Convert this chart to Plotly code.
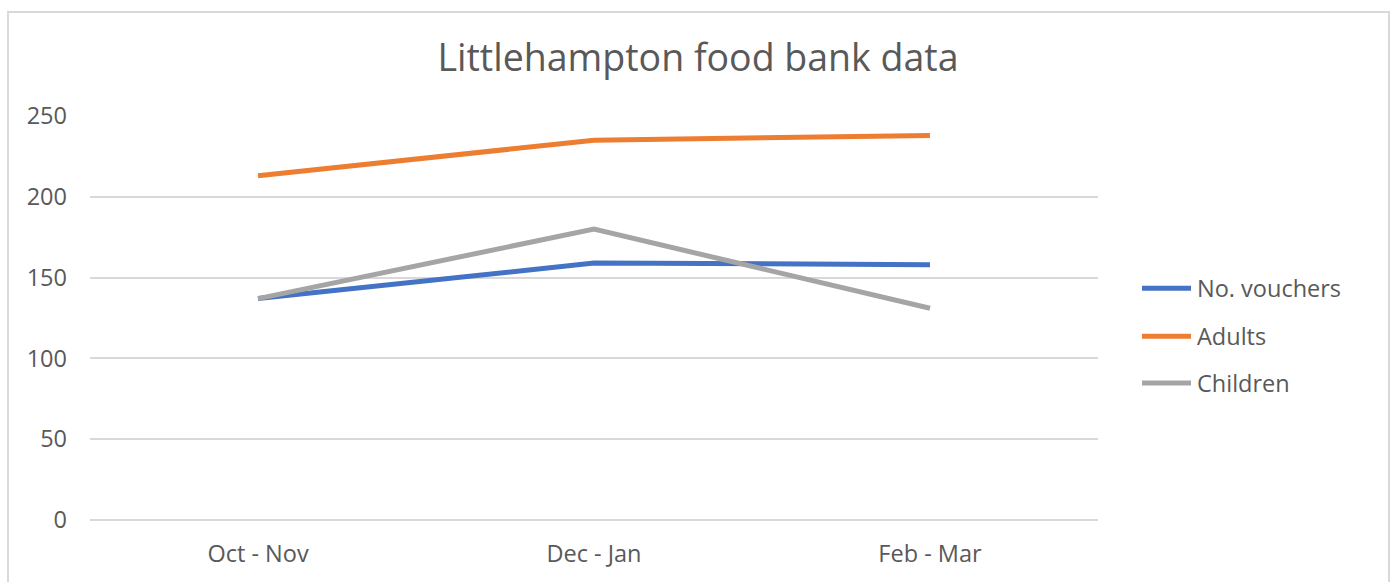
import plotly.graph_objects as go

# Food bank figures per two-month period
periods = ["Oct - Nov", "Dec - Jan", "Feb - Mar"]
vouchers = [137, 159, 158]
adults = [213, 235, 238]
children = [137, 180, 131]

series = [
    ("No. vouchers", vouchers, "#4472C4"),
    ("Adults", adults, "#ED7D31"),
    ("Children", children, "#A5A5A5"),
]

FONT = "Open Sans, Noto Sans, sans-serif"
TEXT = "#595959"
GRID = "#D9D9D9"

fig = go.Figure()
for name, vals, color in series:
    fig.add_trace(go.Scatter(
        x=periods, y=vals, name=name, mode="lines",
        showlegend=False,
        line=dict(color=color, width=5),
    ))

W, H = 1394, 582
left, right, top, bottom = 90, 1098, 115.7, 520
plot_w, plot_h = right - left, bottom - top

def px_x(px):
    return (px - left) / plot_w

def px_y(py):
    return (bottom - py) / plot_h

# Legend on the right: a short line swatch followed by the series name
shapes = [dict(
    type="rect", xref="paper", yref="paper",
    x0=px_x(8), x1=px_x(1389), y0=px_y(600), y1=px_y(11.5),
    line=dict(color=GRID, width=2), fillcolor="rgba(0,0,0,0)",
    layer="below",
)]
annotations = []
row_y = [288, 336, 383]
for (name, _, color), py in zip(series, row_y):
    shapes.append(dict(
        type="line", xref="paper", yref="paper",
        x0=px_x(1142), x1=px_x(1191), y0=px_y(py), y1=px_y(py),
        line=dict(color=color, width=5),
    ))
    annotations.append(dict(
        text=name, xref="paper", yref="paper",
        x=px_x(1195), y=px_y(py), xanchor="left", yanchor="middle",
        showarrow=False, font=dict(size=23.5, color=TEXT, family=FONT),
    ))

fig.update_layout(
    width=W, height=H,
    margin=dict(l=left, r=W - right, t=top, b=H - bottom, pad=0),
    paper_bgcolor="white", plot_bgcolor="white",
    font=dict(family=FONT, color=TEXT, size=23.5),
    showlegend=False,
    title=dict(
        text="Littlehampton food bank data",
        font=dict(size=37.5, color=TEXT, family=FONT),
        x=698 / W, xanchor="center", xref="container",
        y=1 - 58 / H, yanchor="middle", yref="container",
    ),
    xaxis=dict(
        type="category", range=[-0.5, 2.5],
        showgrid=False, showline=False, zeroline=False, ticks="",
        tickfont=dict(size=23.5, color=TEXT),
        ticklabelstandoff=17,
    ),
    yaxis=dict(
        range=[0, 250], dtick=50, tick0=0,
        showgrid=True, gridcolor=GRID, gridwidth=2,
        zeroline=True, zerolinecolor=GRID, zerolinewidth=2,
        showline=False, ticks="",
        tickfont=dict(size=23.5, color=TEXT),
        ticklabelstandoff=22,
    ),
    shapes=shapes,
    annotations=annotations,
)

fig.write_html("out.html")
